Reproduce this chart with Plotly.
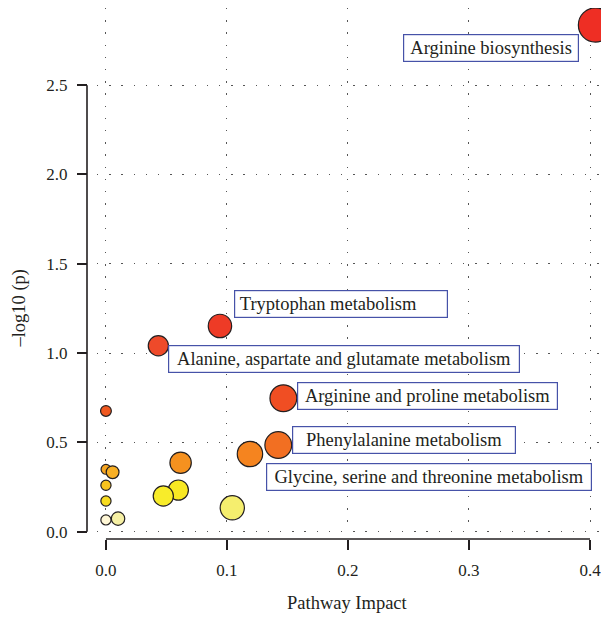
import plotly.graph_objects as go

# ---- data ----
impact = [0.000, 0.010, 0.000, 0.000, 0.000, 0.0055, 0.1044, 0.0598, 0.0474,
          0.0617, 0.000, 0.119, 0.1424, 0.1466, 0.0433, 0.0942, 0.4045]
neglogp = [0.066, 0.073, 0.172, 0.260, 0.349, 0.333, 0.134, 0.233, 0.200,
           0.386, 0.676, 0.435, 0.485, 0.747, 1.041, 1.152, 2.837]
bubble = [11.4, 14.6, 11.4, 11.4, 11.0, 14.0, 25.4, 21.4, 21.4,
          22.6, 12.0, 26.6, 28.0, 28.0, 21.4, 24.6, 35.4]

# ---- style ----
fill = ["#FFF7D6", "#F6F0A4", "#F8DC20", "#F8C41E", "#F6A520", "#F8AF24",
        "#F5EE6E", "#F8E823", "#F8EC2A", "#F5911F", "#F0581F", "#F5841F",
        "#F26F22", "#F04E23", "#EE4A2A", "#EE3B26", "#EE2E24"]

label_text = ["Arginine biosynthesis", "Tryptophan metabolism",
              "Alanine, aspartate and glutamate metabolism",
              "Arginine and proline metabolism", "Phenylalanine metabolism",
              "Glycine, serine and threonine metabolism"]
label_x = [0.2457, 0.1060, 0.0510, 0.1579, 0.1540, 0.1322]
label_y = [2.709, 1.274, 0.9675, 0.760, 0.512, 0.309]
label_w = [175, 213, 351, 260, 223, 325]
label_align = ["center", "left", "center", "center", "center", "center"]

x_ticks = [0.0, 0.1, 0.2, 0.3, 0.4]
y_ticks = [0.0, 0.5, 1.0, 1.5, 2.0, 2.5]

FONT = "Liberation Serif"
TXT = "#231F20"
AX = "#231F20"
BORDER = "#4652A8"
BW = 1.2
BOX_H = 26.5

fig = go.Figure()
fig.add_trace(go.Scatter(
    x=impact, y=neglogp, mode="markers", cliponaxis=False,
    marker=dict(size=[b - 1.2 for b in bubble], color=fill,
                line=dict(color="#231F20", width=1.2), opacity=1),
    hoverinfo="skip", showlegend=False))

annotations = []
for t, x, y, w, al in zip(label_text, label_x, label_y, label_w, label_align):
    shown = ("\u00a0" + t) if al == "left" else t
    annotations.append(dict(
        text=shown, x=x, y=y, xref="x", yref="y", xanchor="left", yanchor="middle",
        showarrow=False, bgcolor="white", bordercolor=BORDER, borderwidth=BW,
        borderpad=0, width=w - BW, height=BOX_H - BW, align=al, valign="middle",
        font=dict(family=FONT, size=18.5, color=TXT)))

annotations.append(dict(text="Pathway Impact", x=0.2, y=-0.1205, xref="x", yref="paper",
                        xanchor="center", yanchor="middle", showarrow=False,
                        font=dict(family=FONT, size=18.5, color=TXT)))
annotations.append(dict(text="\u2013log10 (p)", x=-0.130, y=1.25, xref="paper", yref="y",
                        xanchor="center", yanchor="middle", showarrow=False, textangle=-90,
                        font=dict(family=FONT, size=18.5, color=TXT)))

shapes = [
    dict(type="line", xref="x", yref="paper", x0=x_ticks[0], x1=x_ticks[-1], y0=0, y1=0,
         line=dict(color=AX, width=1.6)),
    dict(type="line", xref="paper", yref="y", x0=0, x1=0, y0=y_ticks[0], y1=y_ticks[-1],
         line=dict(color=AX, width=1.6)),
]

grid_dash = "1.3px,10.9px"
GRID = "#555555"
fig.update_layout(
    width=601, height=610,
    margin=dict(l=79, r=0, t=0, b=79, pad=0),
    paper_bgcolor="white", plot_bgcolor="white",
    font=dict(family=FONT, color=TXT),
    xaxis=dict(domain=[0.01916, 1], range=[-0.0074, 0.4157], anchor="free", position=0,
               tickvals=x_ticks, tickformat=".1f", ticks="outside", ticklen=10,
               tickwidth=1.6, tickcolor=AX, showline=False, zeroline=False,
               showgrid=True, gridcolor=GRID, gridwidth=1.3, griddash=grid_dash,
               tickfont=dict(family=FONT, size=17, color=TXT), ticklabelstandoff=6),
    yaxis=dict(domain=[0.0113, 1], range=[-0.0073, 2.932], anchor="free", position=0,
               tickvals=y_ticks, tickformat=".1f", ticks="outside", ticklen=10,
               tickwidth=1.6, tickcolor=AX, showline=False, zeroline=False,
               showgrid=True, gridcolor=GRID, gridwidth=1.3, griddash=grid_dash,
               tickfont=dict(family=FONT, size=17, color=TXT), ticklabelstandoff=6),
    annotations=annotations,
    shapes=shapes,
)

fig.write_html("out.html")
